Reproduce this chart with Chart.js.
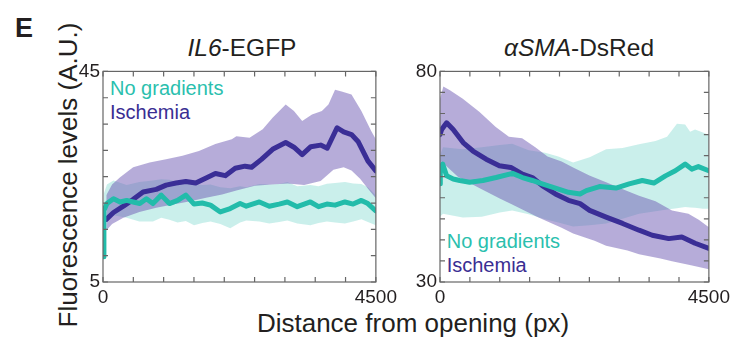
<!DOCTYPE html>
<html><head><meta charset="utf-8">
<script src="https://cdn.jsdelivr.net/npm/chart.js@4.4.1/dist/chart.umd.min.js"></script>
<style>
html,body{margin:0;padding:0;background:#fff;width:736px;height:339px;overflow:hidden;position:relative;font-family:"Liberation Sans",Arial,Helvetica,sans-serif;color:#231f20}
.t{position:absolute;white-space:nowrap}
canvas{position:absolute}
</style></head><body>
<div class="t" style="left:15px;top:14.5px;font-size:27px;line-height:27px;font-weight:bold">E</div>
<div class="t" style="left:142px;top:36px;width:200px;text-align:center;font-size:24.5px;line-height:24px"><i>IL6</i>-EGFP</div>
<div class="t" style="left:479px;top:36px;width:200px;text-align:center;font-size:24.5px;line-height:24px"><i>αSMA</i>-DsRed</div>
<div class="t" style="left:213px;top:309.7px;width:400px;text-align:center;font-size:26px;line-height:26px">Distance from opening (px)</div>
<div class="t" style="left:-102.5px;top:162px;width:340px;text-align:center;font-size:26px;line-height:26px;transform:rotate(-90deg)">Fluorescence levels (A.U.)</div>
<div class="t" style="left:110px;top:78.1px;font-size:20px;line-height:20px;color:#2bbfae">No gradients</div>
<div class="t" style="left:110px;top:102.4px;font-size:20px;line-height:20px;color:#3a2e93">Ischemia</div>
<div class="t" style="left:446.7px;top:231.4px;font-size:20px;line-height:20px;color:#2bbfae">No gradients</div>
<div class="t" style="left:446.7px;top:255.4px;font-size:20px;line-height:20px;color:#3a2e93">Ischemia</div>
<canvas id="c1" width="331" height="253" style="left:70px;top:57px"></canvas>
<canvas id="c2" width="327" height="253" style="left:407px;top:57px"></canvas>
<script>
// ---------- Panel 1: IL6-EGFP ----------
const il6NoGradX    = [0, 15, 65, 173, 281, 390, 498, 607, 716, 823, 960, 1095, 1230, 1366, 1501, 1637, 1773, 1935, 2098, 2261, 2363, 2579, 2742, 2904, 3041, 3204, 3420, 3555, 3692, 3827, 3990, 4125, 4261, 4368, 4500];
const il6NoGradMean = [9.8, 18.6, 19.9, 20.8, 20.2, 20.5, 20.2, 19.9, 20.8, 19.9, 21.5, 19.9, 20.5, 21.5, 19.8, 20.0, 19.6, 18.3, 18.95, 19.9, 19.4, 20.2, 19.4, 19.8, 20.2, 19.3, 20.2, 19.3, 19.8, 19.6, 20.2, 19.8, 20.5, 19.9, 18.5];
const il6NoGradBandX = [15, 65, 173, 390, 600, 823, 960, 1095, 1230, 1366, 1501, 1637, 1773, 1935, 2098, 2261, 2363, 2579, 2742, 2904, 3041, 3204, 3420, 3555, 3692, 3827, 3990, 4125, 4261, 4368, 4500];
const il6NoGradUpper = [21.8, 23.5, 24.3, 23.4, 24.0, 24.3, 24.5, 24.4, 24.0, 24.2, 23.6, 23.4, 23.5, 23.0, 22.8, 23.2, 23.0, 23.6, 23.5, 23.6, 24.0, 23.2, 23.4, 23.2, 23.65, 23.8, 24.0, 23.7, 23.6, 23.0, 21.5];
const il6NoGradLower = [16.5, 17.0, 17.7, 17.2, 16.5, 16.5, 17.2, 16.8, 16.3, 16.6, 15.8, 16.2, 16.5, 16.0, 15.2, 16.3, 16.7, 16.5, 16.1, 16.4, 16.7, 16.1, 15.8, 16.2, 16.5, 16.3, 16.1, 16.5, 16.9, 16.4, 15.8];

const il6IschX    = [54, 173, 336, 499, 661, 878, 1041, 1204, 1366, 1529, 1692, 1854, 2017, 2180, 2342, 2451, 2613, 2797, 3013, 3149, 3285, 3427, 3589, 3698, 3860, 3969, 4098, 4206, 4368, 4500];
const il6IschMean = [16.9, 18.2, 19.4, 20.7, 22.1, 22.6, 23.4, 23.8, 24.1, 23.8, 24.7, 25.6, 25.2, 26.6, 27.0, 26.8, 28.3, 30.2, 31.5, 30.6, 29.2, 30.7, 31.0, 30.4, 34.3, 33.5, 33.0, 31.7, 28.0, 26.1];
const il6IschUpperX = [54, 150, 282, 498, 769, 1040, 1311, 1582, 1853, 2124, 2200, 2417, 2634, 2797, 3013, 3149, 3285, 3447, 3610, 3718, 3827, 3935, 4098, 4261, 4423, 4500];
const il6IschUpper  = [21.5, 23.5, 24.9, 26.8, 27.7, 28.3, 29.0, 29.9, 31.2, 32.1, 32.7, 32.4, 34.0, 36.2, 38.7, 37.5, 35.6, 36.8, 37.5, 38.7, 41.5, 41.2, 40.6, 37.5, 33.7, 32.1];
const il6IschLowerX = [54, 150, 336, 600, 878, 1150, 1420, 1700, 1963, 2200, 2505, 2780, 3047, 3318, 3589, 3800, 3969, 4098, 4240, 4400, 4500];
const il6IschLower  = [14.8, 16.0, 17.2, 18.3, 19.1, 19.7, 20.3, 21.0, 21.6, 22.4, 23.3, 23.5, 23.7, 23.4, 24.2, 26.3, 26.8, 26.2, 24.6, 22.3, 20.9];

// ---------- Panel 2: aSMA-DsRed ----------
const smaNoGradX    = [0, 5, 45, 111, 221, 331, 497, 717, 938, 1214, 1380, 1545, 1711, 1931, 2151, 2344, 2449, 2669, 2945, 3166, 3386, 3579, 3773, 3938, 4103, 4214, 4324, 4500];
const smaNoGradMean = [53.3, 56.4, 58.0, 55.2, 54.45, 54.1, 53.7, 54.1, 54.8, 55.8, 54.8, 54.1, 53.3, 52.3, 51.3, 50.9, 51.7, 52.65, 52.3, 53.3, 54.1, 53.5, 55.2, 56.4, 58.0, 56.8, 57.4, 56.4];
const smaNoGradBandX = [0, 50, 381, 700, 1000, 1208, 1484, 1760, 1980, 2228, 2504, 2780, 3056, 3331, 3607, 3800, 3966, 4103, 4186, 4269, 4400, 4500];
const smaNoGradUpper = [60.0, 62.0, 61.5, 62.0, 62.5, 62.8, 61.3, 60.7, 59.8, 58.4, 59.6, 61.5, 61.8, 62.7, 63.5, 64.5, 67.6, 67.4, 65.7, 66.2, 65.5, 64.9];
const smaNoGradLower = [45.5, 46.2, 45.3, 45.5, 46.5, 47.0, 46.1, 44.9, 44.1, 43.2, 43.5, 43.9, 45.0, 46.2, 46.8, 47.2, 47.5, 47.8, 47.7, 47.6, 47.4, 47.4];

const smaIschX    = [0, 28, 111, 221, 387, 552, 772, 993, 1186, 1380, 1545, 1711, 1931, 2151, 2344, 2504, 2780, 3056, 3331, 3552, 3828, 4048, 4269, 4500];
const smaIschMean = [65.0, 66.2, 67.8, 66.2, 63.1, 61.1, 59.15, 57.6, 57.2, 55.6, 54.8, 52.9, 50.9, 49.4, 48.6, 47.0, 45.4, 43.9, 42.3, 41.1, 40.3, 40.7, 39.2, 38.0];
const smaIschUpperX = [0, 56, 166, 381, 657, 933, 1153, 1374, 1595, 1800, 2035, 2228, 2500, 2780, 3060, 3331, 3607, 3883, 4158, 4330, 4500];
const smaIschUpper  = [73.5, 76.4, 75.5, 73.5, 70.4, 66.8, 64.5, 64.1, 62.0, 59.8, 58.6, 57.2, 55.3, 53.7, 52.0, 50.5, 49.2, 47.0, 46.2, 44.8, 43.0];
const smaIschLowerX = [0, 23, 300, 657, 1000, 1208, 1649, 2035, 2228, 2587, 2780, 3138, 3331, 3690, 3883, 4200, 4500];
const smaIschLower  = [57.0, 58.6, 55.0, 52.3, 49.8, 48.4, 45.3, 42.9, 41.5, 39.8, 38.6, 37.5, 36.6, 35.6, 34.9, 34.0, 33.0];

// axis ranges / tick labels
const xRange = [0, 4500];
const xStep = 500;
const il6YRange = [5, 45];
const smaYRange = [30, 80];
const yStep = 5;

const TEAL = '#22bcaa';
const PURPLE = '#3a2e96';
const TEAL_FILL = 'rgba(34,188,170,0.24)';
const PURPLE_FILL = 'rgba(110,90,180,0.5)';
const FONT = '"Liberation Sans", Arial, Helvetica, sans-serif';

Chart.defaults.font.family = FONT;

const pts = (xs, ys) => xs.map((x, i) => ({x: x, y: ys[i]}));

const framePlugin = {
  id: 'frame',
  afterDatasetsDraw(chart) {
    const {ctx, chartArea: a, scales} = chart;
    const x = scales.x, y = scales.y;
    ctx.save();
    ctx.strokeStyle = '#666';
    ctx.lineWidth = 1.2;
    ctx.strokeRect(a.left, a.top, a.right - a.left, a.bottom - a.top);
    const L = 5;
    ctx.beginPath();
    x.ticks.forEach(t => {
      const p = x.getPixelForValue(t.value);
      ctx.moveTo(p, a.bottom); ctx.lineTo(p, a.bottom - L);
      ctx.moveTo(p, a.top); ctx.lineTo(p, a.top + L);
    });
    y.ticks.forEach(t => {
      const p = y.getPixelForValue(t.value);
      ctx.moveTo(a.left, p); ctx.lineTo(a.left + L, p);
      ctx.moveTo(a.right, p); ctx.lineTo(a.right - L, p);
    });
    ctx.stroke();
    ctx.restore();
  }
};

function makePanel(id, yRange, s) {
  const datasets = [
    {data: pts(s.nbx, s.nlo), borderWidth: 0, pointRadius: 0, fill: false, order: 5},
    {data: pts(s.nbx, s.nhi), borderWidth: 0, pointRadius: 0, fill: 0, backgroundColor: TEAL_FILL, order: 4},
    {data: pts(s.ilx, s.ilo), borderWidth: 0, pointRadius: 0, fill: false, order: 3},
    {data: pts(s.iux, s.ihi), borderWidth: 0, pointRadius: 0, fill: 2, backgroundColor: PURPLE_FILL, order: 2},
    {data: pts(s.ix, s.im), borderColor: PURPLE, borderWidth: 5, pointRadius: 0, fill: false, order: 1,
     borderJoinStyle: 'round', borderCapStyle: 'round'},
    {data: pts(s.nx, s.nm), borderColor: TEAL, borderWidth: 5, pointRadius: 0, fill: false, order: 0,
     borderJoinStyle: 'round', borderCapStyle: 'round'}
  ];
  new Chart(document.getElementById(id), {
    type: 'line',
    data: {datasets},
    plugins: [framePlugin],
    options: {
      responsive: false,
      animation: false,
      devicePixelRatio: 1,
      layout: {padding: {left: 0, top: 12, right: 22, bottom: 0}},
      elements: {line: {tension: 0}},
      plugins: {legend: {display: false}, tooltip: {enabled: false}, title: {display: false}},
      scales: {
        x: {
          type: 'linear', min: xRange[0], max: xRange[1],
          grid: {display: false, drawTicks: false}, border: {display: false},
          ticks: {stepSize: xStep, autoSkip: false, maxRotation: 0, padding: 4, color: '#231f20',
                  font: {size: 19, family: FONT},
                  callback: v => (v === xRange[0] || v === xRange[1]) ? String(v) : ''},
          afterFit: sc => { sc.height = 28; }
        },
        y: {
          type: 'linear', min: yRange[0], max: yRange[1],
          grid: {display: false, drawTicks: false}, border: {display: false},
          ticks: {stepSize: yStep, autoSkip: false, padding: 3, color: '#231f20',
                  font: {size: 19, family: FONT},
                  callback: v => (v === yRange[0] || v === yRange[1]) ? String(v) : ''},
          afterFit: sc => { sc.width = 33; }
        }
      }
    }
  });
}

makePanel('c1', il6YRange, {
  nx: il6NoGradX, nm: il6NoGradMean, nbx: il6NoGradBandX, nhi: il6NoGradUpper, nlo: il6NoGradLower,
  ix: il6IschX, im: il6IschMean, iux: il6IschUpperX, ihi: il6IschUpper, ilx: il6IschLowerX, ilo: il6IschLower
});
makePanel('c2', smaYRange, {
  nx: smaNoGradX, nm: smaNoGradMean, nbx: smaNoGradBandX, nhi: smaNoGradUpper, nlo: smaNoGradLower,
  ix: smaIschX, im: smaIschMean, iux: smaIschUpperX, ihi: smaIschUpper, ilx: smaIschLowerX, ilo: smaIschLower
});
</script>
</body></html>
